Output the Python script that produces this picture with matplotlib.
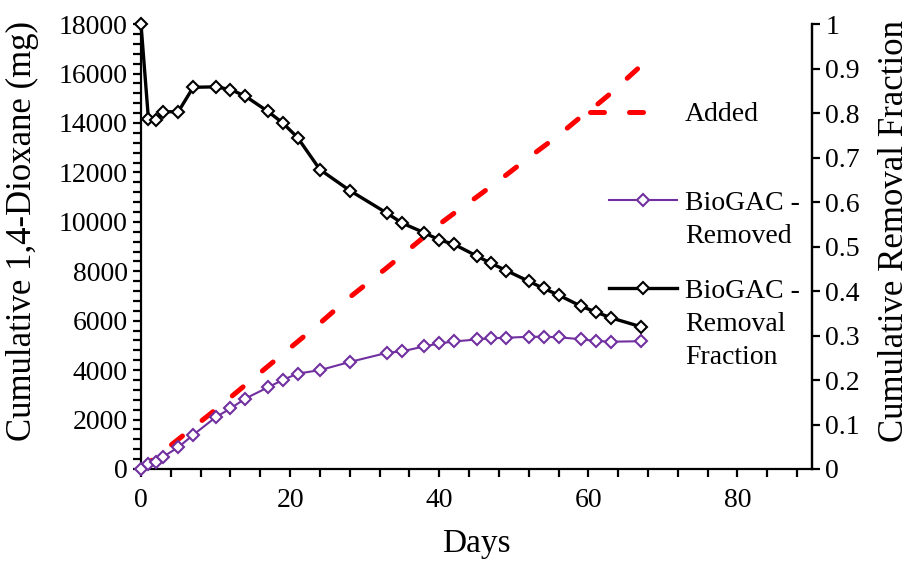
"""Cumulative 1,4-dioxane added/removed by BioGAC and removal fraction."""

import matplotlib
import numpy as np

matplotlib.use("Agg")
import matplotlib.pyplot as plt
from matplotlib.ticker import MultipleLocator, FormatStrFormatter

plt.rcParams["font.family"] = ["Liberation Serif", "DejaVu Serif"]

days = [0, 1, 2, 3, 5, 7, 10, 12, 14, 17, 19, 21, 24, 28, 33, 35, 38, 40,
        42, 45, 47, 49, 52, 54, 56, 59, 61, 63, 67]
added = [0, 240, 480, 720, 1200, 1680, 2400, 2900, 3400, 4150, 4650, 5150,
         5900, 6950, 8150, 8650, 9400, 9900, 10350, 11000, 11450, 11900,
         12600, 13050, 13500, 14250, 14700, 15200, 16300]
removed = [0, 190, 300, 500, 880, 1380, 2090, 2450, 2850, 3300, 3600, 3860,
           4000, 4330, 4700, 4760, 4960, 5080, 5160, 5240, 5290, 5310,
           5350, 5350, 5330, 5250, 5180, 5150, 5170]
fraction = [1.0, 0.786, 0.784, 0.803, 0.803, 0.858, 0.859, 0.853, 0.838,
            0.804, 0.778, 0.745, 0.673, 0.626, 0.575, 0.553, 0.531, 0.515,
            0.505, 0.479, 0.462, 0.446, 0.422, 0.406, 0.391, 0.366, 0.353,
            0.340, 0.320]

purple = "#7030A0"
red = "#FF0000"

fig = plt.figure(figsize=(9.12, 5.61), dpi=100)
ax = fig.add_axes([0.1546, 0.164, 0.7358, 0.793])
ax2 = ax.twinx()

ax.plot(days, added, color=red, lw=3.6, dashes=(2.8, 5.0),
        dash_capstyle="round", zorder=2, clip_on=False)
ax.plot(days, removed, color=purple, lw=1.5, marker="D", ms=6,
        mfc="white", mec=purple, mew=1.5, zorder=3, clip_on=False)
ax2.plot(days, fraction, color="black", lw=2.4, marker="D", ms=6,
         mfc="white", mec="black", mew=1.5, zorder=3, clip_on=False)

ax.set_xlim(0, 90)
ax.set_ylim(0, 18000)
ax2.set_ylim(0, 1)
ax.xaxis.set_major_locator(MultipleLocator(20))
ax.xaxis.set_minor_locator(MultipleLocator(4))
ax.yaxis.set_major_locator(MultipleLocator(2000))
ax.yaxis.set_minor_locator(MultipleLocator(400))
ax2.yaxis.set_major_locator(MultipleLocator(0.1))
ax2.yaxis.set_major_formatter(FormatStrFormatter("%g"))

for a in (ax, ax2):
    a.spines["top"].set_visible(False)
    for s in a.spines.values():
        s.set_linewidth(1.6)
    a.tick_params(which="both", direction="out", length=6, width=1.6,
                  labelsize=20)
ax.tick_params(axis="y", which="both", right=False)
ax.tick_params(axis="x", pad=8)
ax2.spines["left"].set_visible(False)
ax2.spines["bottom"].set_visible(False)

ax.set_xlabel("Days", fontsize=24, labelpad=11)
ax.set_ylabel("Cumulative 1,4-Dioxane (mg)", fontsize=25, labelpad=14)
ax2.set_ylabel("Cumulative Removal Fraction", fontsize=25, labelpad=13)
# both titles sit a little above the axes centre in the reference
ax.yaxis.label.set_y(0.535)
ax2.yaxis.label.set_y(0.535)

# Excel-style legend: handle lined up with the first text line
ax.plot([0.669, 0.781], [0.803, 0.803], transform=ax.transAxes, color=red,
        lw=3.6, dashes=(2.8, 5.0), dash_capstyle="round", clip_on=False)
ax.plot([0.697, 0.799], [0.6045, 0.6045], transform=ax.transAxes,
        color=purple, lw=1.5, clip_on=False)
ax.plot([0.748], [0.6045], transform=ax.transAxes, marker="D", ms=6,
        mfc="white", mec=purple, mew=1.5, clip_on=False)
ax.plot([0.697, 0.799], [0.406, 0.406], transform=ax.transAxes,
        color="black", lw=2.4, clip_on=False)
ax.plot([0.748], [0.406], transform=ax.transAxes, marker="D", ms=6,
        mfc="white", mec="black", mew=1.5, clip_on=False)
step = 0.0742
for y, lines in [(0.783, ["Added"]), (0.583, ["BioGAC -", "Removed"]),
                 (0.384, ["BioGAC -", "Removal", "Fraction"])]:
    for i, line in enumerate(lines):
        ax.text(0.811, y - i * step, line, transform=ax.transAxes,
                fontsize=20, ha="left", va="baseline")

fig.savefig("out.png", dpi=100)
plt.close()
